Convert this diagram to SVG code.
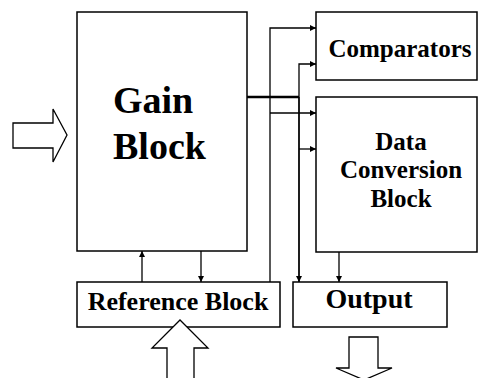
<svg xmlns="http://www.w3.org/2000/svg" width="479" height="378" viewBox="0 0 479 378">
<defs>
<style>
.box{fill:#fff;stroke:#000;stroke-width:1.5}
.t{font-family:"Liberation Serif",serif;font-weight:bold;text-anchor:middle;fill:#000}
.ln{stroke:#000;stroke-width:1.3;fill:none}
.fat{fill:#fff;stroke:#000;stroke-width:1.3}
</style>
<marker id="ah" viewBox="0 0 10 10" refX="10" refY="5" markerWidth="8" markerHeight="6" markerUnits="userSpaceOnUse" orient="auto"><path d="M0,0L10,5L0,10z" fill="#000"/></marker>
</defs>
<rect width="479" height="378" fill="#fff"/>
<g id="gain"><rect class="box" x="77" y="12" width="170" height="239"/><text class="t" x="113" y="113" font-size="38" text-anchor="start" style="text-anchor:start">Gain</text><text class="t" x="113" y="159" font-size="38" style="text-anchor:start">Block</text></g>
<g id="comparators"><rect class="box" x="316" y="12" width="161" height="68"/><text class="t" x="400" y="57" font-size="25">Comparators</text></g>
<g id="dataconv"><rect class="box" x="316" y="97" width="161" height="155"/><text class="t" x="401" y="150" font-size="25">Data</text><text class="t" x="401" y="178" font-size="25">Conversion</text><text class="t" x="401" y="207" font-size="25">Block</text></g>
<g id="reference"><rect class="box" x="77" y="282" width="203" height="45"/><text class="t" x="178" y="310" font-size="26">Reference Block</text></g>
<g id="output"><rect class="box" x="293" y="282" width="154" height="45"/><text class="t" x="369" y="308" font-size="28">Output</text></g>
<g id="connectors">
<path class="ln" d="M270,282V28H316" marker-end="url(#ah)"/>
<path class="ln" d="M270,113H316" marker-end="url(#ah)"/>
<path class="ln" d="M299,282V64H316" marker-end="url(#ah)"/>
<path class="ln" d="M299,97V282" marker-end="url(#ah)"/>
<path class="ln" d="M299,149H316" marker-end="url(#ah)"/>
<path d="M247,97H299" stroke="#000" stroke-width="2.5"/>
<path class="ln" d="M339,252V282" marker-end="url(#ah)"/>
<path class="ln" d="M142,282V251" marker-end="url(#ah)"/>
<path class="ln" d="M201,251V282" marker-end="url(#ah)"/>
</g>
<g id="io-arrows">
<path class="fat" d="M13,123H53V109L67,135L53,162V148H13z"/>
<path class="fat" d="M167,379V348H152L180,320L208,348H194V379"/>
<path class="fat" d="M349,337H378V368H392L364,380L336,368H349z"/>
</g>
</svg>
